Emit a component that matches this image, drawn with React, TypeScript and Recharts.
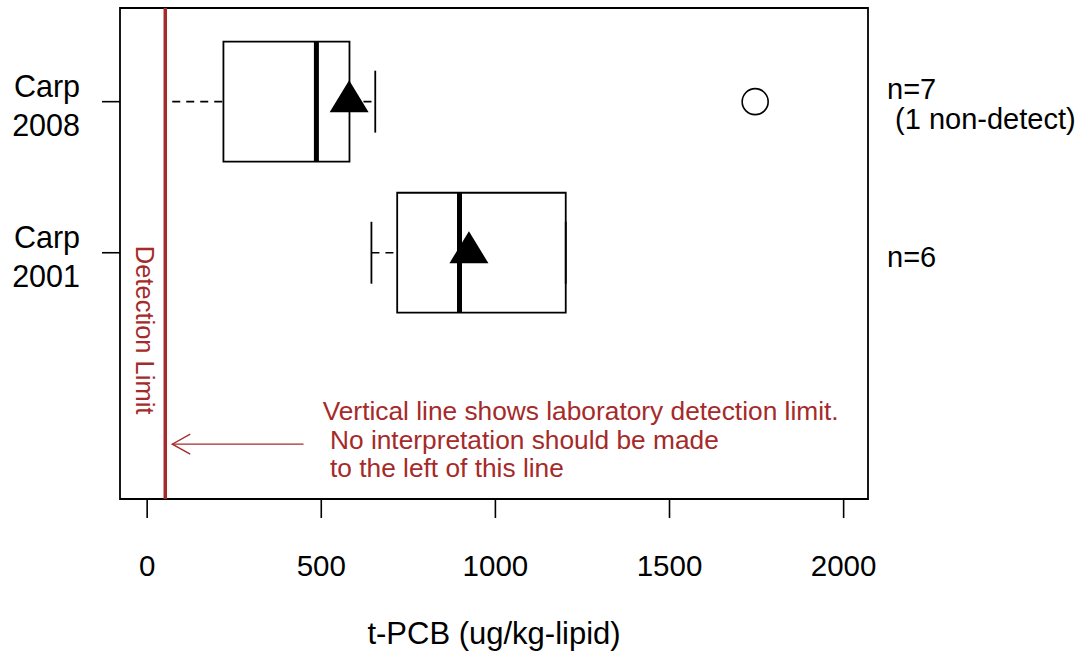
import React from 'react';
import {
  ScatterChart,
  Scatter,
  XAxis,
  YAxis,
  ReferenceArea,
  ReferenceLine,
  ReferenceDot,
  Label,
} from 'recharts';

// groups, top to bottom
const groups = ['Carp 2008', 'Carp 2001'];
const whiskerLow = [72, 644];
const q1 = [219, 718];
const median = [486, 897];
const q3 = [581, 1202];
const whiskerHigh = [655, 1202];
const means = [580, 924];
const lowCap = [false, true];
const outliers = [[1746], []];
const sampleNotes = [['n=7', ' (1 non-detect)'], ['n=6']];
const xTicks = [0, 500, 1000, 1500, 2000];
const detectionLimit = 52;
const noteLines = [
  'Vertical line shows laboratory detection limit.',
  ' No interpretation should be made',
  ' to the left of this line',
];

const RED = '#a52a2a';
const FONT = '"Liberation Sans", Arial, sans-serif';
const xDomain = [-78, 2070];
const yDomain = [-0.63, 2.62];
const boxHalf = 0.397;
const capHalf = 0.205;

const pos = (i: number) => groups.length - i;

const meanData = means.map((m, i) => ({ x: m, y: pos(i) }));
const outlierData = outliers.flatMap((vals, i) => vals.map((v) => ({ x: v, y: pos(i) })));

const LeftTick = (props: any) => {
  const { x, y, payload } = props;
  const idx = groups.length - payload.value;
  const parts = (groups[idx] || '').split(' ');
  return (
    <text x={x} y={y} textAnchor="end" fontSize={30.5} fill="#000" fontFamily={FONT}>
      <tspan x={x} dy={-5}>{parts[0]}</tspan>
      <tspan x={x} dy={39}>{parts[1]}</tspan>
    </text>
  );
};

const RightTick = (props: any) => {
  const { x, y, payload } = props;
  const idx = groups.length - payload.value;
  const lines = sampleNotes[idx] || [];
  return (
    <text x={x} y={y} textAnchor="start" fontSize={29} fill="#000" fontFamily={FONT} style={{ whiteSpace: 'pre' }}>
      {lines.map((l, k) => (
        <tspan key={k} x={x} dy={k === 0 ? (lines.length === 1 ? 14 : -3) : 30}>{l}</tspan>
      ))}
    </text>
  );
};

const Triangle = (props: any) => {
  const { cx, cy } = props;
  return <path d={`M${cx},${cy - 21.5} L${cx + 19.5},${cy + 10.5} L${cx - 19.5},${cy + 10.5} Z`} fill="#000" />;
};

const OpenCircle = (props: any) => {
  const { cx, cy } = props;
  return <circle cx={cx} cy={cy} r={13} fill="none" stroke="#000" strokeWidth={1.6} />;
};

export default function App() {
  return (
    <div style={{ position: 'absolute', left: 0, top: 0, background: '#fff' }}>
      <ScatterChart
        width={1078}
        height={655}
        margin={{ top: 8, right: 0, bottom: 9, left: 0 }}
        style={{ fontFamily: FONT }}
      >
        <XAxis
          dataKey="x"
          type="number"
          domain={xDomain}
          ticks={xTicks}
          allowDataOverflow
          axisLine={false}
          tickSize={19}
          tickMargin={37}
          tickLine={{ stroke: '#000', strokeWidth: 1.6 }}
          tick={{ fontSize: 29.5, fill: '#000' }}
          height={147}
        >
          <Label value="t-PCB (ug/kg-lipid)" position="insideBottom" offset={2} fontSize={31} fill="#000" />
        </XAxis>
        <YAxis
          yAxisId="l"
          dataKey="y"
          type="number"
          domain={yDomain}
          ticks={[1, 2]}
          allowDataOverflow
          axisLine={false}
          tickSize={18}
          tickMargin={22}
          tickLine={{ stroke: '#000', strokeWidth: 1.6 }}
          tick={<LeftTick />}
          width={120}
        />
        <YAxis
          yAxisId="r"
          orientation="right"
          type="number"
          domain={yDomain}
          ticks={[1, 2]}
          allowDataOverflow
          axisLine={false}
          tickLine={false}
          tickSize={0}
          tickMargin={19}
          tick={<RightTick />}
          width={210}
        />

        {/* plot frame */}
        <ReferenceArea yAxisId="l" x1={xDomain[0]} x2={xDomain[1]} y1={yDomain[0]} y2={yDomain[1]}
          fill="none" stroke="#000" strokeWidth={1.8} ifOverflow="visible" />

        {groups.map((g, i) => (
          <ReferenceArea key={`box-${g}`} yAxisId="l" x1={q1[i]} x2={q3[i]} y1={pos(i) - boxHalf} y2={pos(i) + boxHalf}
            fill="none" stroke="#000" strokeWidth={1.8} />
        ))}
        {groups.map((g, i) => (
          <ReferenceLine key={`wl-${g}`} yAxisId="l" segment={[{ x: whiskerLow[i], y: pos(i) }, { x: q1[i], y: pos(i) }]}
            stroke="#000" strokeWidth={1.6} strokeDasharray="8 6" />
        ))}
        {groups.map((g, i) => (
          <ReferenceLine key={`wh-${g}`} yAxisId="l" segment={[{ x: q3[i], y: pos(i) }, { x: whiskerHigh[i], y: pos(i) }]}
            stroke="#000" strokeWidth={1.6} strokeDasharray="8 6" />
        ))}
        {groups.map((g, i) => (
          <ReferenceLine key={`ch-${g}`} yAxisId="l" segment={[{ x: whiskerHigh[i], y: pos(i) - capHalf }, { x: whiskerHigh[i], y: pos(i) + capHalf }]}
            stroke="#000" strokeWidth={1.8} />
        ))}
        {groups.map((g, i) => lowCap[i] ? (
          <ReferenceLine key={`cl-${g}`} yAxisId="l" segment={[{ x: whiskerLow[i], y: pos(i) - capHalf }, { x: whiskerLow[i], y: pos(i) + capHalf }]}
            stroke="#000" strokeWidth={1.8} />
        ) : null)}
        {groups.map((g, i) => (
          <ReferenceLine key={`md-${g}`} yAxisId="l" segment={[{ x: median[i], y: pos(i) - boxHalf }, { x: median[i], y: pos(i) + boxHalf }]}
            stroke="#000" strokeWidth={5} />
        ))}

        <Scatter yAxisId="l" data={meanData} shape={<Triangle />} isAnimationActive={false} />
        <Scatter yAxisId="l" data={outlierData} shape={<OpenCircle />} isAnimationActive={false} />

        {/* detection limit */}
        <ReferenceLine yAxisId="l" x={detectionLimit} stroke={RED} strokeWidth={3.5} />
        <ReferenceDot yAxisId="l" x={detectionLimit} y={0.488} r={0}
          shape={(p: any) => (
            <text transform={`translate(${p.cx - 20.5},${p.cy}) rotate(90)`} textAnchor="middle" dy="0.36em"
              fontSize={25.5} fill={RED} fontFamily={FONT}>Detection Limit</text>
          )} />

        {/* arrow and note */}
        <ReferenceLine yAxisId="l" segment={[{ x: 449, y: -0.267 }, { x: 72, y: -0.267 }]} stroke={RED} strokeWidth={1.3} />
        <ReferenceDot yAxisId="l" x={72} y={-0.267} r={0}
          shape={(p: any) => (
            <path d={`M${p.cx + 18},${p.cy - 10} L${p.cx},${p.cy} L${p.cx + 18},${p.cy + 10}`} fill="none" stroke={RED} strokeWidth={1.3} />
          )} />
        <ReferenceDot yAxisId="l" x={504} y={-0.11} r={0}
          shape={(p: any) => (
            <text x={p.cx} y={p.cy} fontSize={26.3} fill={RED} fontFamily={FONT} style={{ whiteSpace: 'pre' }}>
              {noteLines.map((l, k) => (
                <tspan key={k} x={p.cx} dy={k === 0 ? 0 : 28.5}>{l}</tspan>
              ))}
            </text>
          )} />
      </ScatterChart>
    </div>
  );
}
